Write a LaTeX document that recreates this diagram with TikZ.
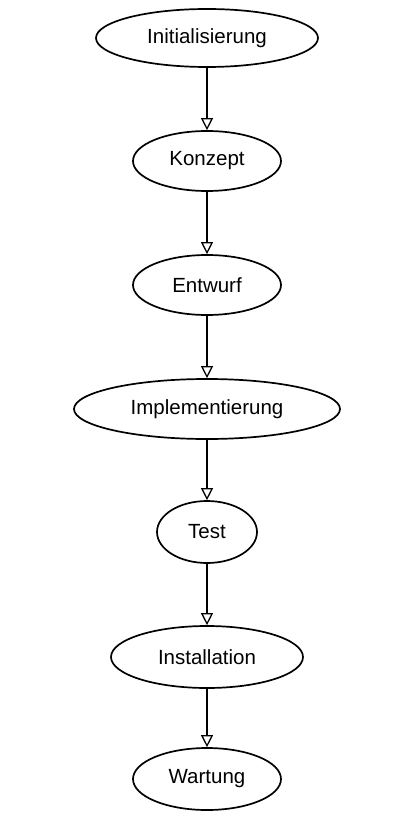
\documentclass[tikz,border=0pt]{standalone}
\usepackage{fontspec}
\setmainfont{Liberation Sans}
\usetikzlibrary{shapes.geometric,arrows.meta}
\begin{document}
\begin{tikzpicture}[x=1pt,y=-1pt,
  phase/.style={ellipse,draw=black,line width=1.7pt,fill=white,inner sep=0pt,
    font=\fontsize{20.5}{23}\selectfont},
  flow/.style={draw=black,line width=1.4pt,
    -{Triangle[open,length=12pt,width=12pt,line width=1.3pt]}}]
\useasboundingbox (0,0) rectangle (399,818);
\node[phase,minimum width=222pt,minimum height=58pt] (init) at (207,38) {Initialisierung};
\node[phase,minimum width=148pt,minimum height=60pt] (konz) at (207,161) {Konzept};
\node[phase,minimum width=148pt,minimum height=60pt] (entw) at (207,285) {Entwurf};
\node[phase,minimum width=266pt,minimum height=60pt] (impl) at (207,409) {Implementierung};
\node[phase,minimum width=100pt,minimum height=62pt] (test) at (207,532) {Test};
\node[phase,minimum width=192pt,minimum height=62pt] (inst) at (207,657) {Installation};
\node[phase,minimum width=148pt,minimum height=62pt] (wart) at (207,779) {Wartung};
\draw[flow] (init) -- (konz);
\draw[flow] (konz) -- (entw);
\draw[flow] (entw) -- (impl);
\draw[flow] (impl) -- (test);
\draw[flow] (test) -- (inst);
\draw[flow] (inst) -- (wart);
\end{tikzpicture}
\end{document}
